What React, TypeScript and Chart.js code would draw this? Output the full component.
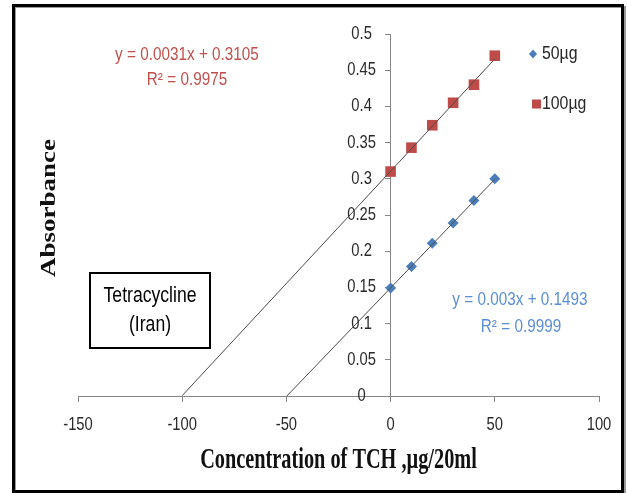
import React, { useEffect, useRef } from "react";
import { Chart, registerables } from "chart.js";

Chart.register(...registerables);

// ---- data ----
const concentrations = [0, 10, 20, 30, 40, 50];
const absorbance50 = [0.149, 0.179, 0.211, 0.239, 0.27, 0.3];
const absorbance100 = [0.31, 0.343, 0.374, 0.405, 0.43, 0.47];
const trend50X = [-50, 50];
const trend50Y = [-0.0007, 0.2993];
const trend100X = [-100, 50];
const trend100Y = [0.0005, 0.4655];
const xTickLabels = ["-150", "-100", "-50", "0", "50", "100"];
const yTickLabels = ["0", "0.05", "0.1", "0.15", "0.2", "0.25", "0.3", "0.35", "0.4", "0.45", "0.5"];
const seriesLabels = ["50µg", "100µg"];
const eq50 = ["y = 0.003x + 0.1493", "R² = 0.9999"];
const eq100 = ["y = 0.0031x + 0.3105", "R² = 0.9975"];
const boxLabel = ["Tetracycline", "(Iran)"];
const xTitle = "Concentration of TCH ,µg/20ml";
const yTitle = "Absorbance";

const BLUE = "#4A7EBB";
const RED = "#BE4B48";
const EQ_BLUE = "#5B8FD3";
const EQ_RED = "#C0504D";
const AXIS = "#868686";
const SANS = "'Liberation Sans', Arial, sans-serif";
const SERIF = "'Liberation Serif', 'Times New Roman', serif";

function pts(xs: number[], ys: number[]) {
  return xs.map((x, i) => ({ x, y: ys[i] }));
}

function text(
  ctx: CanvasRenderingContext2D,
  s: string,
  x: number,
  y: number,
  font: string,
  color: string,
  sx: number,
  align: CanvasTextAlign = "center"
) {
  ctx.save();
  ctx.translate(x, y);
  ctx.scale(sx, 1);
  ctx.font = font;
  ctx.fillStyle = color;
  ctx.textAlign = align;
  ctx.textBaseline = "middle";
  ctx.fillText(s, 0, 0);
  ctx.restore();
}

const annotations = {
  id: "annotations",
  afterDraw(chart: any) {
    const ctx: CanvasRenderingContext2D = chart.ctx;
    const area = chart.chartArea;
    const xs = chart.scales.x;
    const ys = chart.scales.y;

    // tick labels (positions from the scales)
    const tickFont = `18px ${SANS}`;
    xs.ticks.forEach((t: any, i: number) => {
      const lbl = xTickLabels[i];
      if (lbl === undefined) return;
      text(ctx, lbl, xs.getPixelForValue(t.value), 425, tickFont, "#2a2a2a", 0.82);
    });
    const yAxisX = xs.getPixelForValue(0);
    ys.ticks.forEach((t: any, i: number) => {
      const lbl = yTickLabels[i];
      if (lbl === undefined) return;
      text(ctx, lbl, yAxisX - 29, ys.getPixelForValue(t.value), tickFont, "#2a2a2a", 0.82);
    });

    // legend
    ctx.save();
    ctx.fillStyle = BLUE;
    ctx.beginPath();
    ctx.moveTo(533, 49.5);
    ctx.lineTo(537, 54);
    ctx.lineTo(533, 58.5);
    ctx.lineTo(529, 54);
    ctx.closePath();
    ctx.fill();
    ctx.fillStyle = RED;
    ctx.fillRect(532, 99.5, 9, 9);
    ctx.restore();
    text(ctx, seriesLabels[0], 542, 54, `18px ${SANS}`, "#262626", 0.88, "left");
    text(ctx, seriesLabels[1], 542, 104, `18px ${SANS}`, "#262626", 0.88, "left");

    // equations
    text(ctx, eq100[0], 187, 55, `18px ${SANS}`, EQ_RED, 0.85);
    text(ctx, eq100[1], 187, 80, `18px ${SANS}`, EQ_RED, 0.85);
    text(ctx, eq50[0], 520, 300, `18px ${SANS}`, EQ_BLUE, 0.85);
    text(ctx, eq50[1], 521, 327, `18px ${SANS}`, EQ_BLUE, 0.85);

    // box
    ctx.save();
    ctx.strokeStyle = "#000";
    ctx.lineWidth = 2;
    ctx.strokeRect(90, 273, 120, 75);
    ctx.restore();
    text(ctx, boxLabel[0], 150, 296, `22px ${SANS}`, "#000", 0.8);
    text(ctx, boxLabel[1], 150, 325, `22px ${SANS}`, "#000", 0.8);

    // axis titles
    text(ctx, xTitle, (area.left + area.right) / 2, 461, `bold 29px ${SERIF}`, "#111", 0.7);
    ctx.save();
    ctx.translate(50, 208);
    ctx.rotate(-Math.PI / 2);
    ctx.scale(1, 0.75);
    ctx.font = `bold 27px ${SERIF}`;
    ctx.fillStyle = "#111";
    ctx.textAlign = "center";
    ctx.textBaseline = "middle";
    ctx.fillText(yTitle, 0, 0);
    ctx.restore();
  },
};

export default function App() {
  const ref = useRef<HTMLCanvasElement>(null);

  useEffect(() => {
    const canvas = ref.current;
    if (!canvas) return;
    const chart = new Chart(canvas, {
      type: "scatter",
      data: {
        datasets: [
          {
            label: "trend 100",
            data: pts(trend100X, trend100Y),
            showLine: true,
            borderColor: "#4d4d4d",
            borderWidth: 1,
            pointRadius: 0,
            order: 0,
          },
          {
            label: "trend 50",
            data: pts(trend50X, trend50Y),
            showLine: true,
            borderColor: "#4d4d4d",
            borderWidth: 1,
            pointRadius: 0,
            order: 0,
          },
          {
            label: seriesLabels[0],
            data: pts(concentrations, absorbance50),
            pointStyle: "rectRot",
            pointRadius: 5.5,
            backgroundColor: BLUE,
            borderColor: BLUE,
            borderWidth: 0,
            order: 1,
          },
          {
            label: seriesLabels[1],
            data: pts(concentrations, absorbance100),
            pointStyle: "rect",
            pointRadius: 7.5,
            backgroundColor: RED,
            borderColor: RED,
            borderWidth: 0,
            order: 1,
          },
        ],
      },
      options: {
        responsive: false,
        animation: false,
        layout: { padding: { left: 78, right: 28, top: 34, bottom: 0 } },
        plugins: { legend: { display: false }, tooltip: { enabled: false } },
        scales: {
          x: {
            type: "linear",
            position: "bottom",
            min: -150,
            max: 100,
            afterFit: (scale: any) => {
              scale.height = 97;
            },
            grid: { display: true, drawOnChartArea: false, drawTicks: true, tickLength: 6, color: AXIS },
            border: { display: true, color: AXIS, width: 1 },
            ticks: { stepSize: 50, display: false },
          },
          y: {
            type: "linear",
            position: { x: 0 } as any,
            min: 0,
            max: 0.5,
            grid: { display: true, drawOnChartArea: false, drawTicks: true, tickLength: 5, color: AXIS },
            border: { display: true, color: AXIS, width: 1 },
            ticks: { stepSize: 0.05, display: false },
          },
        },
      },
      plugins: [annotations],
    } as any);
    return () => chart.destroy();
  }, []);

  return (
    <div style={{ position: "absolute", left: 0, top: 0, width: 627, height: 493, background: "#fff" }}>
      <canvas ref={ref} width={627} height={493} style={{ display: "block", width: 627, height: 493 }} />
      <div
        style={{
          position: "absolute",
          left: 12,
          top: 4,
          width: 612,
          height: 489,
          boxSizing: "border-box",
          border: "3px solid #000",
          boxShadow: "inset 1px 1px 0 #9a9a9a, 2px 2px 0 #9a9a9a",
          pointerEvents: "none",
        }}
      />
    </div>
  );
}
